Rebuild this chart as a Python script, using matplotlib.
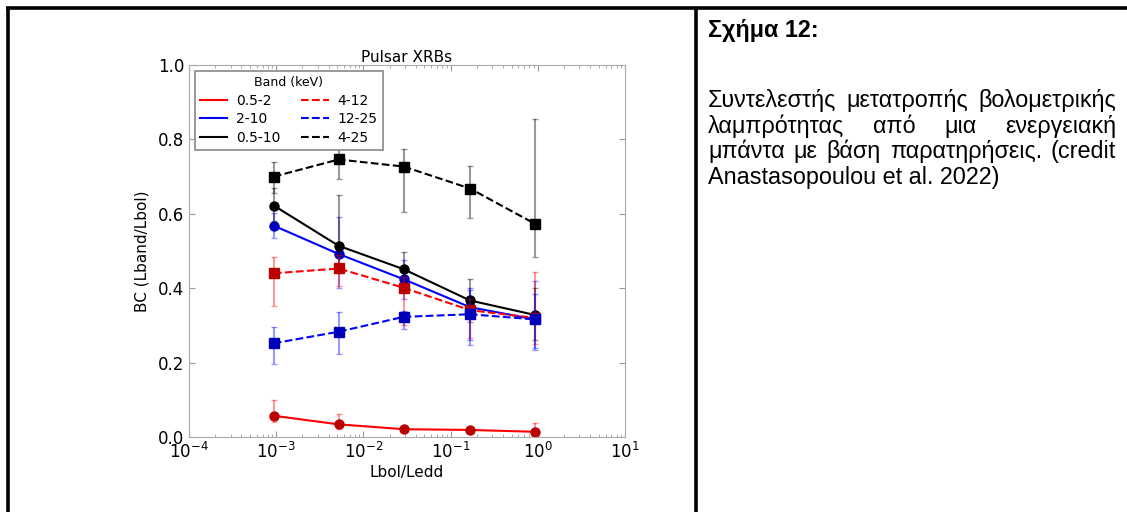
import matplotlib
matplotlib.use('Agg')
import matplotlib.pyplot as plt
from matplotlib.lines import Line2D
import numpy as np

# Lbol/Ledd bins
x = [9.4e-4, 5.2e-3, 2.9e-2, 0.167, 0.93]

# bolometric corrections per band (value, lower, upper)
bc_05_2 = [0.057, 0.034, 0.021, 0.019, 0.014]
lo_05_2 = [0.041, 0.022, 0.015, 0.012, 0.000]
hi_05_2 = [0.100, 0.061, 0.027, 0.027, 0.037]

bc_2_10 = [0.568, 0.492, 0.424, 0.349, 0.316]
lo_2_10 = [0.536, 0.400, 0.370, 0.260, 0.240]
hi_2_10 = [0.602, 0.592, 0.476, 0.400, 0.420]

bc_05_10 = [0.622, 0.514, 0.451, 0.367, 0.328]
lo_05_10 = [0.580, 0.440, 0.400, 0.310, 0.260]
hi_05_10 = [0.670, 0.651, 0.498, 0.425, 0.400]

bc_4_12 = [0.440, 0.453, 0.401, 0.341, 0.320]
lo_4_12 = [0.353, 0.406, 0.300, 0.265, 0.250]
hi_4_12 = [0.483, 0.490, 0.430, 0.370, 0.443]

bc_12_25 = [0.252, 0.283, 0.323, 0.330, 0.316]
lo_12_25 = [0.196, 0.223, 0.291, 0.247, 0.234]
hi_12_25 = [0.295, 0.336, 0.340, 0.395, 0.385]

bc_4_25 = [0.700, 0.746, 0.727, 0.668, 0.573]
lo_4_25 = [0.655, 0.693, 0.604, 0.590, 0.483]
hi_4_25 = [0.738, 0.780, 0.774, 0.729, 0.854]

series = [
    ('0.5-2', bc_05_2, lo_05_2, hi_05_2, 'red', '#bb0000', '-', 'o'),
    ('2-10', bc_2_10, lo_2_10, hi_2_10, 'blue', '#0000bb', '-', 'o'),
    ('0.5-10', bc_05_10, lo_05_10, hi_05_10, 'black', 'black', '-', 'o'),
    ('4-12', bc_4_12, lo_4_12, hi_4_12, 'red', '#bb0000', '--', 's'),
    ('12-25', bc_12_25, lo_12_25, hi_12_25, 'blue', '#0000bb', '--', 's'),
    ('4-25', bc_4_25, lo_4_25, hi_4_25, 'black', 'black', '--', 's'),
]

W, H = 1127, 512
fig = plt.figure(figsize=(W / 100, H / 100), dpi=100)

ax = fig.add_axes([189 / W, 1 - 437 / H, 436 / W, 372 / H])
handles = []
for lab, y, lo, hi, col, mcol, ls, mk in series:
    y = np.array(y)
    err = [y - np.array(lo), np.array(hi) - y]
    ax.errorbar(x, y, yerr=err, fmt='none', ecolor=col, alpha=0.4,
                elinewidth=1.5, capsize=2.5, capthick=1)
    h, = ax.plot(x, y, color=col, ls=ls, lw=1.5, marker=mk,
                 ms=7 if mk == 's' else 6.5, mfc=mcol, mec=mcol, label=lab)
    handles.append(h)

ax.set_xscale('log')
ax.set_xlim(1e-4, 10)
ax.set_ylim(0, 1.0)
ax.set_yticks([0.0, 0.2, 0.4, 0.6, 0.8, 1.0])
ax.tick_params(which='both', direction='in', top=True, right=True,
               labelsize=12, color='#999999')
ax.tick_params(which='major', length=4)
ax.tick_params(which='minor', length=2)
for sp in ax.spines.values():
    sp.set_color('#aaaaaa')
ax.set_title('Pulsar XRBs', fontsize=11, pad=2)
ax.set_xlabel('Lbol/Ledd', fontsize=11, labelpad=2)
ax.set_ylabel('BC (Lband/Lbol)', fontsize=11, labelpad=6)

# legend without markers, two columns
leg_h = [Line2D([], [], color=h.get_color(), ls=h.get_linestyle(), lw=1.5)
         for h in handles]
leg = ax.legend(leg_h, [s[0] for s in series], ncol=2, title='Band (keV)',
                loc='upper left', fontsize=10, title_fontsize=9,
                fancybox=False, edgecolor='#888888', framealpha=1,
                handlelength=1.95, handletextpad=0.65, columnspacing=1.5,
                labelspacing=0.33, borderaxespad=0.4)
leg.get_frame().set_linewidth(1.2)

# table frame lines
def fline(x0, y0, x1, y1, lw):
    fig.add_artist(Line2D([x0 / W, x1 / W], [1 - y0 / H, 1 - y1 / H],
                          transform=fig.transFigure, color='black', lw=lw,
                          solid_capstyle='butt'))

fline(6, 8, W, 8, 2.6)
fline(8, 7, 8, H, 2.6)
fline(696, 7, 696, H, 2.6)

# caption text
font = 'Liberation Sans'
fs = 16.8
fig.text(708 / W, 1 - 37 / H, 'Σχήμα 12:', fontsize=fs, fontweight='bold',
         family=font, va='baseline')

lines = [
    'Συντελεστής μετατροπής βολομετρικής',
    'λαμπρότητας από μια ενεργειακή',
    'μπάντα  με βάση παρατηρήσεις. (credit',
    'Anastasopoulou et al. 2022)',
]
baselines = [107, 133, 158, 184]
x0, x1 = 708, 1116
renderer = fig.canvas.get_renderer()
for i, (ln, yb) in enumerate(zip(lines, baselines)):
    if i == len(lines) - 1:
        fig.text(x0 / W, 1 - yb / H, ln, fontsize=fs, family=font,
                 va='baseline')
        continue
    words = ln.split()
    arts = [fig.text(0, 1 - yb / H, w, fontsize=fs, family=font,
                     va='baseline') for w in words]
    widths = [a.get_window_extent(renderer).width for a in arts]
    gap = (x1 - x0 - sum(widths)) / (len(words) - 1)
    pos = x0
    for a, wd in zip(arts, widths):
        a.set_x(pos / W)
        pos += wd + gap

fig.savefig('out.png', dpi=100)
